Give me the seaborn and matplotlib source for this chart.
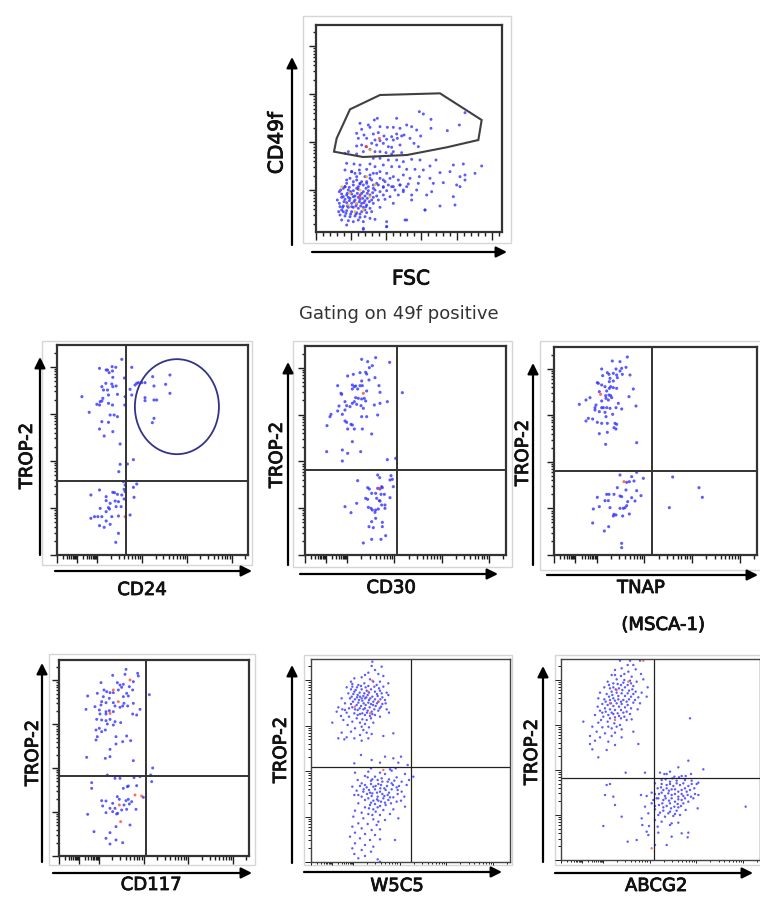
import numpy as np
import pandas as pd
import matplotlib
matplotlib.use("Agg")
import matplotlib.pyplot as plt
import matplotlib.patheffects as pe
import seaborn as sns
from matplotlib.patches import Rectangle, Polygon, Ellipse

sns.set_theme(style="white")
plt.rcParams["font.family"] = ["DejaVu Sans"]

# ---------------------------------------------------------------- data
# events in instrument channel units (x, y)
FSC_CD49F = [
    (478,395),(490,388),(410,375),(352,375),(343,370),(513,372),(615,392),(598,355),(562,338),(513,345),
    (482,322),(300,360),(325,355),(330,348),(305,342),(360,350),(382,348),(400,348),(420,345),(440,355),
    (455,350),(470,340),(290,330),(312,325),(340,328),(355,332),(372,322),(395,320),(410,328),(425,322),
    (432,325),(295,315),(320,315),(345,310),(360,308),(380,312),(400,310),(412,315),(450,315),(462,300),
    (290,292),(305,295),(318,290),(335,300),(350,295),(370,300),(385,290),(395,288),(420,295),(475,290),
    (265,275),(310,275),(330,282),(345,275),(360,275),(378,272),(400,275),(425,272),(395,268),(255,270),(290,268),
    (340,255),(360,255),(385,250),(410,250),(430,245),(455,252),(480,250),(510,232),(528,250),(580,235),
    (610,238),(665,232),(260,240),(282,238),(300,235),(330,238),(345,230),(370,235),(395,230),(418,230),
    (440,222),(465,222),(490,220),(540,212),(645,210),(570,215),(615,205),(255,220),(275,215),(300,210),
    (320,222),(340,210),(360,215),(380,210),(400,200),(430,205),(450,195),(478,200),(600,200),(510,195),
    (290,200),(330,195),(370,190),(390,195),(415,190),(475,180),(520,180),(550,182),(590,175),(615,190),
    (260,190),(280,185),(300,180),(320,180),(350,180),(420,175),(445,178),(600,170),(255,170),(340,165),
    (370,168),(395,170),(430,160),(470,160),(515,155),(580,140),(500,145),(455,145),
    (495,100),(440,70),(380,50),(310,42),(400,120),(455,130),
    (275,215),(285,210),(298,220),(315,200),(330,205),(350,210),(270,195),(290,190),(305,185),(320,185),
    (335,190),(360,195),(375,185),(260,180),(280,175),(295,170),(310,175),(325,170),(340,175),(355,175),
    (370,170),(385,175),(400,170),(420,175),(440,170),(250,165),(265,160),(280,158),(295,162),(310,155),
    (325,158),(345,160),(360,155),(380,158),(405,160),(430,155),(238,155),(245,148),(260,145),(275,148),
    (285,142),(300,145),(315,142),(330,145),(350,142),(370,145),(390,140),(415,145),(245,138),(255,132),
    (270,135),(285,130),(300,132),(315,128),(335,130),(355,130),(375,132),(260,122),(275,120),(290,118),
    (305,120),(320,115),(340,120),(238,120),(250,112),(265,108),(280,108),(295,105),(310,108),(330,105),
    (360,108),(245,100),(260,98),(275,95),(290,92),(305,95),(320,92),(335,95),(240,85),(255,82),
    (270,80),(285,82),(300,78),(315,80),(330,75),(245,70),(265,68),(280,65),(295,70),(310,65),
    (380,65),(345,72),(435,70),(260,55),(310,45),(380,50),(495,100),(540,112),(585,115),
    (255,170),(268,168),(290,165),(300,178),(318,165),(262,150),(272,155),(292,150),(305,150),(322,150),
    (338,152),(250,140),(265,138),(280,140),(295,138),(308,135),(322,135),(340,138),(252,125),(268,128),
    (282,125),(298,125),(312,122),(328,125),(248,108),(262,112),(275,110),(288,112),(302,112),(318,110),
    (258,90),(272,88),(288,88),(300,88),(250,95),(315,100),(232,130),(240,110),(236,95),(242,160),
]
FSC_CD49F_YELLOW = [(270,150),(290,120),(310,100),(300,160),(330,140),(245,170),(320,200),(265,115),
                    (285,95),(345,175),(330,280),(345,260)]
FSC_CD49F_RED = [(358,315),(320,290),(300,140)]
CD49F_GATE = [(222,275),(230,315),(270,402),(360,445),(540,450),(665,370),(655,310),(560,288),
              (441,265),(309,259),(222,275)]

CD24_TROP2 = [
    (365,627),(298,600),(318,595),(322,595),(336,605),(347,603),(337,592),(327,587),(338,573),(373,571),
    (317,555),(305,545),(335,553),(338,545),(348,547),(310,535),(322,535),(352,522),(325,520),(245,515),
    (308,510),(300,500),(305,502),(290,492),(298,490),(325,495),(337,490),(375,515),(374,490),(267,468),
    (330,460),(342,460),(352,455),(305,440),(325,438),(298,418),(312,397),(338,410),(360,373),
    (395,603),(390,537),(395,520),(405,550),(410,555),(415,557),(425,557),(435,557),(458,575),(462,547),
    (497,552),(510,580),(510,525),(435,512),(435,503),(462,505),(470,505),(462,450),(457,437),(382,313),
    (400,326),(360,312),(356,290),
    (370,260),(375,250),(372,237),(375,230),(410,253),(400,243),(298,235),(272,220),(338,228),(343,227),
    (352,222),(365,220),(318,215),(345,202),(372,208),(402,213),(318,203),(330,195),(355,200),(348,185),
    (325,182),(328,178),(300,180),(363,185),(318,170),(335,155),(355,157),(390,160),(272,150),
    (283,155),(293,155),(305,155),(318,142),(330,132),(298,128),(312,123),(355,105),(347,78),
]
CD24_TROP2_RED = [(375,155)]
CD24_GATE = 377
CD24_TROP2_GATE = 262
CD24_ELLIPSE = (531, 485, 253, 285)

CD30_TROP2 = [
    (290,627),(332,632),(308,620),(374,618),(322,608),(313,602),(302,588),(305,583),(285,587),(265,582),
    (248,577),(330,572),(312,565),(290,562),(342,548),(218,548),(262,550),(268,545),(272,547),(285,548),
    (292,548),(262,538),(278,538),(305,532),(228,525),(230,522),(345,528),(272,512),(280,510),
    (290,508),(298,510),(302,502),(240,500),(268,500),(262,495),(275,492),(288,488),(328,490),(345,495),
    (367,500),(222,487),(245,488),(255,485),(295,480),(240,475),(218,472),(232,462),(198,462),(290,455),
    (305,455),(338,460),(195,455),(240,442),(245,438),(258,432),(262,430),(186,428),(248,418),(268,418),
    (292,418),(320,403),(262,380),(232,355),(185,350),(248,345),(287,350),(232,322),(367,326),(392,330),
    (412,527),
    (338,280),(344,272),(378,278),(375,265),(382,267),(278,263),(350,245),(352,242),(385,245),(308,242),
    (338,240),(313,238),(345,238),(320,225),(332,225),(348,222),(358,222),(302,210),(308,207),(335,210),
    (343,203),(345,202),(375,212),(350,190),(360,190),(240,185),(310,183),(318,180),(322,175),(332,175),
    (340,178),(360,180),(258,167),(275,195),(330,168),(332,150),(320,140),(352,138),(312,125),(325,122),
    (352,125),(362,98),(320,87),(348,87),(295,76),
]
CD30_TROP2_RED = [(295,525),(342,240)]
CD30_GATE = 397
CD30_TROP2_GATE = 294

TNAP_TROP2 = [
    (352,634),(307,622),(330,620),(275,598),(318,598),(335,600),(348,603),(330,592),(292,587),(310,585),
    (278,578),(297,582),(320,580),(337,582),(360,580),(322,572),(300,570),(262,557),(265,555),(298,560),
    (310,562),(275,550),(285,545),(302,545),(298,540),(310,542),(320,540),(370,538),(290,532),(268,530),
    (287,518),(297,520),(302,518),(288,510),(305,512),(240,512),(228,505),(275,502),(295,505),
    (357,515),(325,495),(208,492),(258,490),(255,482),(275,482),(280,482),(290,482),(300,480),(318,482),
    (335,478),(378,487),(255,475),(268,470),(285,468),(308,462),(288,455),(235,450),(248,448),(228,442),
    (262,438),(275,435),(292,435),(315,435),(320,432),(312,422),(318,418),(292,408),(268,404),(287,372),
    (380,377),
    (380,288),(365,275),(330,280),(400,270),(488,274),(350,258),(358,260),(372,262),(322,242),
    (348,235),(380,233),(567,242),(290,222),(297,222),(312,222),(330,217),(335,215),(365,212),(393,218),
    (577,213),(262,213),(285,203),(295,203),(375,202),(353,200),(250,178),(268,185),(300,182),(330,180),
    (340,180),(345,182),(350,188),(478,182),(312,162),(318,160),(310,157),(338,157),(358,163),(248,136),
    (296,125),(283,112),(335,75),(335,62),
]
TNAP_TROP2_RED = [(272,522),(342,260)]
TNAP_GATE = 425
TNAP_TROP2_GATE = 292

CD117_TROP2 = [
    (378,642),(413,630),(375,627),(338,624),(415,622),(400,605),(303,602),(352,602),(360,595),
    (370,597),(388,590),(312,580),(320,575),(355,580),(398,580),(365,588),(330,572),(340,572),
    (380,570),(292,570),(263,562),(448,566),(310,560),(328,555),(370,560),(385,562),(305,545),
    (318,542),(340,542),(372,540),(400,540),(285,530),(303,535),(345,532),(360,528),(368,532),(383,532),
    (258,522),(298,520),(318,515),(328,518),(340,515),(420,522),(300,508),(318,508),(398,508),(410,505),
    (290,492),(305,490),(318,488),(330,492),(345,485),(362,482),(340,475),(322,478),(298,465),(288,460),
    (316,460),(305,455),(380,442),(292,440),(348,440),(288,430),(368,425),(392,428),(348,418),(330,402),
    (260,378),(316,375),(330,380),(400,368),(458,346),(452,325),(322,325),
    (345,315),(360,315),(402,317),(420,320),(455,305),(275,302),(275,285),(385,292),(410,293),(382,290),
    (370,285),(352,260),(430,258),(358,252),(385,252),(305,248),(318,247),(378,248),(395,245),
    (338,240),(372,235),(388,238),(308,232),(330,225),(345,225),(365,220),(380,222),(408,222),
    (338,215),(350,208),(353,210),(263,207),(318,212),(390,175),(348,170),(282,155),(330,152),
    (318,135),(348,130),(368,122),(330,118),
]
CD117_TROP2_RED = [(390,610),(340,580),(355,545),(405,265),(425,262),(358,235),(362,185),(330,510)]
CD117_GATE = 438
CD117_TROP2_GATE = 323

W5C5_TROP2 = [
    (322,665),(320,652),(350,650),(330,640),(310,632),(340,628),(300,625),(355,622),(290,618),(268,615),
    (315,612),(325,605),(345,605),(370,600),(262,598),(280,595),(298,600),(310,592),(335,595),(355,590),
    (245,588),(258,582),(272,580),(290,582),(305,578),(318,582),(330,575),(345,578),(365,572),(250,570),
    (265,568),(278,565),(285,560),(295,562),(308,565),(322,560),(338,562),(352,558),(370,565),(230,555),
    (255,555),(270,552),(282,550),(292,548),(300,555),(312,550),(325,545),(340,545),(360,550),(240,540),
    (258,538),(275,535),(288,532),(302,535),(318,538),(332,532),(348,530),(220,528),(232,522),(262,528),
    (278,520),(295,522),(308,518),(320,515),(340,518),(365,522),(215,515),(245,512),(268,510),(285,508),
    (300,505),(315,502),(330,505),(372,512),(228,502),(252,500),(275,495),(292,492),(305,490),(318,495),
    (345,500),(235,490),(262,485),(285,482),(300,478),(325,482),(202,482),(248,475),(290,470),(312,468),
    (270,465),(295,460),(258,455),(230,452),(305,452),(320,448),(285,445),(245,438),(220,435),(238,432),
    (268,435),(385,450),(355,442),(290,428),(310,435),
    (262,590),(276,588),(288,592),(302,588),(328,590),(342,585),(268,575),(284,572),(298,570),(312,572),
    (336,568),(350,570),(260,560),(276,558),(290,555),(304,558),(316,555),(330,552),(346,552),(264,545),
    (280,542),(296,540),(310,542),(324,535),(336,540),(352,538),(270,522),(284,525),(300,525),(314,528),
    (328,522),(344,525),(278,505),(292,510),(306,512),(322,508),(252,525),(240,520),(362,540),(258,605),
    (288,385),(360,380),(385,375),(408,380),(320,370),(345,362),(428,355),(318,345),(375,342),(392,345),
    (445,320),(268,360),(400,362),
    (270,332),(310,335),(345,332),(360,328),(380,338),(420,328),(300,322),(330,320),(350,315),(395,318),
    (432,310),(278,310),(318,308),(368,305),(410,305),(290,300),(340,298),(380,300),(425,295),(262,290),
    (305,288),(325,290),(358,285),(395,288),(275,278),(295,275),(315,272),(345,275),(372,272),(410,275),
    (268,265),(290,260),(320,262),(338,260),(358,262),(385,258),(418,260),(300,250),(325,248),(348,245),
    (370,250),(395,245),(280,240),(315,235),(330,238),(345,232),(362,235),(300,228),(325,222),(332,215),
    (355,220),(385,222),(420,230),(270,218),(290,212),(310,208),(345,205),(375,208),(265,200),(295,195),
    (325,192),(340,185),(360,190),(400,195),(280,180),(308,178),(335,175),(262,170),(290,165),(320,160),
    (345,162),(270,152),(300,148),(330,145),(255,140),(285,135),(315,130),(345,132),(390,130),(270,120),
    (300,115),(325,110),(262,105),(290,100),(318,95),(268,88),(300,82),(338,72),(345,65),(280,75),
    (308,318),(322,312),(338,310),(352,305),(372,312),(388,308),(300,295),(318,298),(332,292),(348,295),
    (366,292),(384,295),(402,292),(296,282),(312,280),(330,282),(346,285),(362,280),(380,282),(398,280),
    (306,268),(322,270),(336,272),(352,268),(368,265),(398,268),(310,255),(336,252),(355,255),(375,258),
    (318,242),(340,248),(360,242),(378,240),(408,248),(322,205),(312,225),(338,228),(280,265),(285,292),
]
W5C5_TROP2_RED = [(322,608),(310,575),(340,545),(270,530),(315,510),(355,340)]
W5C5_GATE = 438
W5C5_TROP2_GATE = 348

ABCG2_TROP2 = [
    (315,668),(345,668),(375,668),(338,655),(355,655),(320,645),(362,642),(300,640),(340,635),(378,628),
    (290,625),(318,622),(350,620),(305,612),(328,610),(345,608),(365,605),(385,612),(278,605),(295,600),
    (318,595),(338,595),(355,592),(398,588),(268,588),(285,585),(302,582),(322,580),(342,578),(362,575),
    (380,572),(255,572),(275,568),(292,565),(310,562),(330,562),(348,560),(370,558),(395,560),(250,555),
    (268,552),(285,550),(300,548),(318,545),(335,545),(355,542),(375,540),(262,538),(278,535),(295,532),
    (312,530),(330,528),(348,525),(368,522),(255,518),(272,515),(290,512),(308,510),(325,512),(345,508),
    (240,505),(265,500),(285,495),(300,498),(318,495),(335,490),(350,492),(205,485),(250,482),(278,485),
    (298,480),(315,475),(232,470),(262,468),(290,465),(320,462),(245,455),(270,450),(300,452),(355,455),
    (225,442),(255,438),(290,442),(320,438),(240,428),(280,425),(225,418),(300,415),(370,418),(232,402),
    (275,400),(250,378),(525,495),
    (300,625),(328,628),(308,598),(325,602),(348,600),(282,595),(295,588),(312,585),(330,588),(352,582),
    (290,575),(305,572),(320,570),(338,570),(355,568),(282,560),(295,555),(310,552),(325,550),(342,552),
    (360,550),(272,545),(288,540),(305,540),(320,538),(338,535),(270,525),(285,522),(300,520),(318,520),
    (335,515),(280,505),(295,508),(312,502),(328,500),(262,512),(248,530),(258,490),(305,470),(280,470),
    (465,335),(455,328),(490,348),(520,368),(565,342),(435,332),(448,328),(478,320),(500,322),(528,328),
    (332,332),(390,332),(440,310),(465,305),(485,308),(510,310),(530,308),(545,298),(550,302),(420,300),
    (455,295),(475,292),(495,295),(520,292),(538,285),(428,285),(445,280),(462,278),(480,282),(500,280),
    (515,275),(540,268),(550,265),(410,272),(432,268),(450,262),(470,265),(490,260),(505,262),(528,260),
    (378,265),(395,262),(425,255),(445,250),(462,248),(480,245),(500,250),(520,245),(410,240),(432,235),
    (455,232),(478,230),(498,232),(548,225),(692,230),(390,230),(420,222),(445,218),(465,215),(485,218),
    (512,220),(400,210),(430,205),(450,200),(475,202),(495,205),(380,195),(420,190),(440,185),(470,180),
    (490,182),(382,175),(402,172),(428,170),(465,175),(395,155),(430,152),(500,150),(520,152),(518,138),
    (470,140),(400,145),(365,130),(420,115),(455,115),(338,125),(270,265),(275,295),(285,298),
    (300,235),(295,260),(320,200),(265,172),
    (452,312),(472,315),(492,318),(512,322),(440,298),(465,298),(485,300),(505,300),(530,298),(438,288),
    (455,285),(470,282),(490,275),(510,285),(525,280),(420,268),(440,272),(460,270),(480,268),(500,268),
    (518,265),(430,255),(452,255),(470,255),(490,252),(510,255),(442,240),(465,240),(488,238),(505,240),
    (420,232),(445,228),(468,225),(490,228),(435,212),(460,210),(480,208),(415,250),(535,255),
]
ABCG2_TROP2_RED = [(385,668),(305,580),(285,540),(300,490),(340,605),(410,105)]
ABCG2_GATE = 418
ABCG2_TROP2_GATE = 317

# ---------------------------------------------------------------- figure
W, H = 760, 897
fig = plt.figure(figsize=(W / 100, H / 100), dpi=100)
fig.patch.set_facecolor("white")

ov = fig.add_axes([0, 0, 1, 1], zorder=0)
ov.set_xlim(0, W)
ov.set_ylim(H, 0)
ov.axis("off")

BLUE = "#3232ff"
PT = 0.72  # points per pixel at 100 dpi
TICK = "#1e1e1e"


def px_axes(box):
    l, t, r, b = box
    return fig.add_axes([l / W, 1 - b / H, (r - l) / W, (b - t) / H], zorder=2)


def log_ticks(bases, dec):
    out = []
    for b in bases:
        out.append((b, True))
        for k in range(2, 10):
            out.append((b + dec * np.log10(k), False))
    return [(p, m) for p, m in out if -0.001 <= p <= 1.001]


def set_ticks(ax, xt, yt, xlen, ylen, lw=1.0, color=TICK):
    x0, x1 = ax.get_xlim()
    y0, y1 = ax.get_ylim()
    ax.set_xticks([x0 + p * (x1 - x0) for p, m in xt if m])
    ax.set_xticks([x0 + p * (x1 - x0) for p, m in xt if not m], minor=True)
    ax.set_yticks([y0 + p * (y1 - y0) for p, m in yt if m])
    ax.set_yticks([y0 + p * (y1 - y0) for p, m in yt if not m], minor=True)
    for axis, which, L in (("x", "major", xlen[0]), ("x", "minor", xlen[1]),
                           ("y", "major", ylen[0]), ("y", "minor", ylen[1])):
        kw = dict(bottom=True, labelbottom=False) if axis == "x" else dict(left=True, labelleft=False)
        ax.tick_params(axis=axis, which=which, direction="out", length=L * PT,
                       width=lw, color=color, **kw)


def arrow(tail, tip, lw=1.6):
    ov.annotate("", xy=tip, xytext=tail,
                arrowprops=dict(arrowstyle="-|>", lw=lw, color="black",
                                mutation_scale=16, shrinkA=0, shrinkB=0))


def events_frame(main, hi_groups):
    xs = [p[0] for p in main]
    ys = [p[1] for p in main]
    kinds = ["main"] * len(main)
    for name, pts in hi_groups:
        xs += [p[0] for p in pts]
        ys += [p[1] for p in pts]
        kinds += [name] * len(pts)
    return pd.DataFrame({"x": xs, "y": ys, "kind": kinds})


def panel(outer, box, xlim, ylim, main, hi, palette, s, box_lw, box_color):
    if outer is not None:
        l, t, r, b = outer
        ov.add_patch(Rectangle((l, t), r - l, b - t, fill=False,
                               edgecolor="#d6d6d6", lw=1.0))
    ax = px_axes(box)
    ax.set_facecolor("white")
    df = events_frame(main, hi)
    sns.scatterplot(data=df, x="x", y="y", hue="kind", palette=palette, s=s,
                    linewidth=0, alpha=0.8, legend=False, ax=ax, marker="o")
    ax.set_xlim(*xlim)
    ax.set_ylim(*ylim)
    ax.set_xlabel("")
    ax.set_ylabel("")
    for sp in ax.spines.values():
        sp.set_visible(True)
        sp.set_linewidth(box_lw)
        sp.set_color(box_color)
    return ax


BOLDISH = [pe.withStroke(linewidth=0.6, foreground="#111111")]
label_kw = dict(fontsize=13, color="#111111", ha="center", va="center", path_effects=BOLDISH)

# ----- top panel: FSC vs CD49f
top_box = (316, 25, 502, 232)
ax0 = panel((303, 16, 511, 243), top_box, (168, 726), (34, 655), FSC_CD49F,
            [("yellow", FSC_CD49F_YELLOW), ("red", FSC_CD49F_RED)],
            {"main": BLUE, "yellow": "#ffb400", "red": "#ff3b1f"}, 4.5, 1.6, "#333333")
ax0.add_patch(Polygon(CD49F_GATE, closed=True, fill=False, edgecolor="#404040", lw=1.5))
top_xt = [(i * 0.0378, i % 5 == 0) for i in range(27)]
top_yt = log_ticks([-0.03, 0.202, 0.434, 0.666, 0.898], 0.232)
set_ticks(ax0, top_xt, top_yt, (8, 4), (7, 3.5))
arrow((292, 245), (292, 57))
arrow((312, 252), (507, 252))
ov.text(277, 143, "CD49f", rotation=90, **{**label_kw, "fontsize": 14.5})
ov.text(411, 279, "FSC", **{**label_kw, "fontsize": 14.5})

ov.text(399, 314, "Gating on 49f positive", fontsize=13, color="#333333",
        ha="center", va="center")

mid_xt = log_ticks([0.0, 0.105], 0.105) + log_ticks([0.21, 0.445, 0.68, 0.915], 0.235)
mid_yt = log_ticks([0.0, 0.224, 0.448, 0.672, 0.896], 0.224)
hi_pal = {"main": BLUE, "red": "#ff4a2a"}

# ----- CD24
b2 = (57, 345, 248, 555)
ax2 = panel((42, 341, 252, 565), b2, (170, 745), (40, 670), CD24_TROP2,
            [("red", CD24_TROP2_RED)], hi_pal, 5, 1.6, "#333333")
ax2.axvline(CD24_GATE, color="#333333", lw=1.4)
ax2.axhline(CD24_TROP2_GATE, color="#333333", lw=1.4)
cx, cy, ew, eh = CD24_ELLIPSE
ax2.add_patch(Ellipse((cx, cy), ew, eh, fill=False, edgecolor="#33338a", lw=1.3))
set_ticks(ax2, mid_xt, mid_yt, (8, 4), (7, 3.5))
arrow((40, 555), (40, 357))
arrow((55, 571), (252, 571))
ov.text(27, 456, "TROP-2", rotation=90, **label_kw)
ov.text(142, 590, "CD24", **label_kw)

# ----- CD30
b3 = (305, 346, 506, 555)
ax3 = panel((293, 341, 512, 567), b3, (120, 723), (40, 667), CD30_TROP2,
            [("red", CD30_TROP2_RED)], hi_pal, 5, 1.6, "#333333")
ax3.axvline(CD30_GATE, color="#333333", lw=1.4)
ax3.axhline(CD30_TROP2_GATE, color="#333333", lw=1.4)
set_ticks(ax3, mid_xt, mid_yt, (8, 4), (7, 3.5))
arrow((288, 565), (288, 362))
arrow((300, 574), (498, 574))
ov.text(277, 455, "TROP-2", rotation=90, **label_kw)
ov.text(391, 588, "CD30", **label_kw)

# ----- TNAP
b4 = (554, 347, 757, 555)
ax4 = panel((540, 341, 764, 570), b4, (132, 741), (40, 664), TNAP_TROP2,
            [("red", TNAP_TROP2_RED)], hi_pal, 5, 1.6, "#333333")
ax4.axvline(TNAP_GATE, color="#333333", lw=1.4)
ax4.axhline(TNAP_TROP2_GATE, color="#333333", lw=1.4)
set_ticks(ax4, mid_xt, mid_yt, (8, 4), (7, 3.5))
arrow((533, 565), (533, 363))
arrow((547, 575), (758, 575))
ov.text(523, 453, "TROP-2", rotation=90, **label_kw)
ov.text(641, 588, "TNAP", **label_kw)
ov.text(663, 625, "(MSCA-1)", **label_kw)

# ----- CD117
b5 = (59, 660, 249, 856)
ax5 = panel((49, 654, 255, 865), b5, (177, 747), (82, 670), CD117_TROP2,
            [("red", CD117_TROP2_RED)], hi_pal, 4.5, 1.6, "#333333")
ax5.axvline(CD117_GATE, color="#333333", lw=1.4)
ax5.axhline(CD117_TROP2_GATE, color="#333333", lw=1.4)
set_ticks(ax5, mid_xt, mid_yt, (8, 4), (7, 3.5))
arrow((42, 862), (42, 663))
arrow((53, 873), (252, 873))
ov.text(33, 753, "TROP-2", rotation=90, **label_kw)
ov.text(151, 885, "CD117", **label_kw)

# ----- W5C5
b6 = (311, 659, 510, 862)
ax6 = panel((304, 655, 512, 865), b6, (138, 735), (64, 673), W5C5_TROP2,
            [("red", W5C5_TROP2_RED)], hi_pal, 3, 1.0, "#444444")
ax6.axvline(W5C5_GATE, color="#222222", lw=0.9)
ax6.axhline(W5C5_TROP2_GATE, color="#222222", lw=0.9)
set_ticks(ax6, mid_xt, mid_yt, (3, 2), (6, 3), lw=0.7)
arrow((292, 863), (292, 665))
arrow((304, 872), (502, 872))
ov.text(281, 750, "TROP-2", rotation=90, **label_kw)
ov.text(397, 886, "W5C5", **label_kw)

# ----- ABCG2
b7 = (561, 659, 760, 860)
ax7 = panel((555, 655, 764, 865), b7, (138, 735), (70, 673), ABCG2_TROP2,
            [("red", ABCG2_TROP2_RED)], hi_pal, 3, 1.0, "#444444")
ax7.axvline(ABCG2_GATE, color="#222222", lw=0.9)
ax7.axhline(ABCG2_TROP2_GATE, color="#222222", lw=0.9)
set_ticks(ax7, mid_xt, mid_yt, (3, 2), (6, 3), lw=0.7)
arrow((543, 862), (543, 666))
arrow((555, 873), (753, 873))
ov.text(532, 752, "TROP-2", rotation=90, **label_kw)
ov.text(656, 886, "ABCG2", **label_kw)

fig.savefig("out.png", dpi=100, facecolor="white")
